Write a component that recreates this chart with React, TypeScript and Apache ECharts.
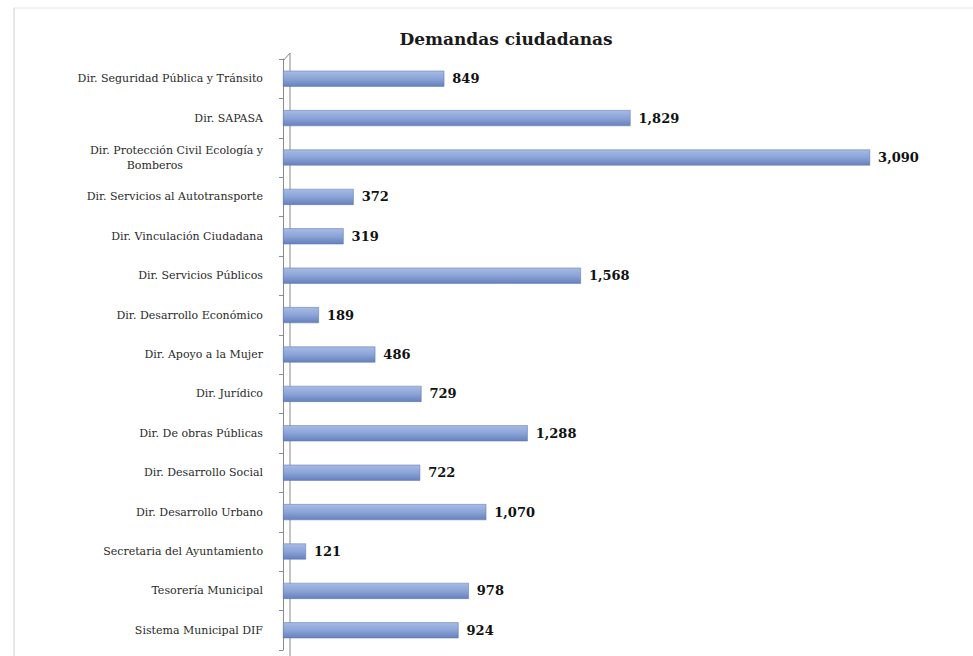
import React, { useEffect, useRef } from "react";
import * as echarts from "echarts";

const categories = [
  "Dir. Seguridad Pública y Tránsito",
  "Dir. SAPASA",
  "Dir. Protección Civil Ecología y\nBomberos",
  "Dir. Servicios al Autotransporte",
  "Dir. Vinculación Ciudadana",
  "Dir. Servicios Públicos",
  "Dir. Desarrollo Económico",
  "Dir. Apoyo a la Mujer",
  "Dir. Jurídico",
  "Dir. De obras Públicas",
  "Dir. Desarrollo Social",
  "Dir. Desarrollo Urbano",
  "Secretaria del Ayuntamiento",
  "Tesorería Municipal",
  "Sistema Municipal DIF",
];
const values = [849, 1829, 3090, 372, 319, 1568, 189, 486, 729, 1288, 722, 1070, 121, 978, 924];
const title = "Demandas ciudadanas";

export default function App() {
  const ref = useRef<HTMLDivElement>(null);
  useEffect(() => {
    const chart = echarts.init(ref.current!, null, { renderer: "svg" });
    const labelFont = { fontFamily: "DejaVu Serif", fontSize: 11, color: "#2a2a2a", lineHeight: 15 };
    chart.setOption({
      animation: false,
      backgroundColor: "#ffffff",
      title: {
        text: title,
        left: 501,
        top: 25,
        textAlign: "center",
        textStyle: { fontFamily: "DejaVu Serif", fontWeight: "bold", fontSize: 17, color: "#1a1a1a" },
      },
      graphic: [
        { type: "line", shape: { x1: 14, y1: 8, x2: 14, y2: 656 }, style: { stroke: "#d0d0d0", lineWidth: 1 } },
        { type: "line", shape: { x1: 14, y1: 8, x2: 973, y2: 8 }, style: { stroke: "#e4e4e4", lineWidth: 1 } },
        { type: "line", shape: { x1: 290, y1: 53, x2: 290, y2: 656 }, style: { stroke: "#8a8a8a", lineWidth: 1 }, z: -1 },
        { type: "line", shape: { x1: 283, y1: 61, x2: 290, y2: 53 }, style: { stroke: "#8a8a8a", lineWidth: 1 } },
      ],
      grid: { left: 283, right: 25, top: 59, bottom: 6, containLabel: false },
      xAxis: {
        type: "value",
        min: 0,
        max: 3500,
        show: false,
      },
      yAxis: {
        type: "category",
        data: categories,
        inverse: true,
        axisLine: { show: true, lineStyle: { color: "#8a8a8a" } },
        axisTick: { show: true, length: 4, lineStyle: { color: "#8a8a8a" } },
        axisLabel: {
          margin: 20,
          ...labelFont,
          formatter: (v: string) => {
            const parts = v.split("\n");
            if (parts.length > 1) return parts[0] + "\n{b|" + parts[1] + "}";
            return v;
          },
          rich: {
            b: { ...labelFont, padding: [0, 80, 0, 0] },
          },
        },
      },
      series: [
        {
          type: "bar",
          data: values,
          barWidth: 16,
          itemStyle: {
            color: new echarts.graphic.LinearGradient(0, 0, 0, 1, [
              { offset: 0, color: "#a7bbe4" },
              { offset: 0.5, color: "#8ba4d7" },
              { offset: 1, color: "#6580bd" },
            ]),
            borderColor: "#5a74ad",
            borderWidth: 0.5,
          },
          label: {
            show: true,
            position: "right",
            distance: 8,
            fontFamily: "DejaVu Serif",
            fontWeight: "bold",
            fontSize: 13,
            color: "#111",
            formatter: (p: any) => Number(p.value).toLocaleString("en-US"),
          },
        },
      ],
    });
    return () => chart.dispose();
  }, []);
  return <div ref={ref} style={{ width: 973, height: 656, position: "absolute", left: 0, top: 0 }} />;
}
